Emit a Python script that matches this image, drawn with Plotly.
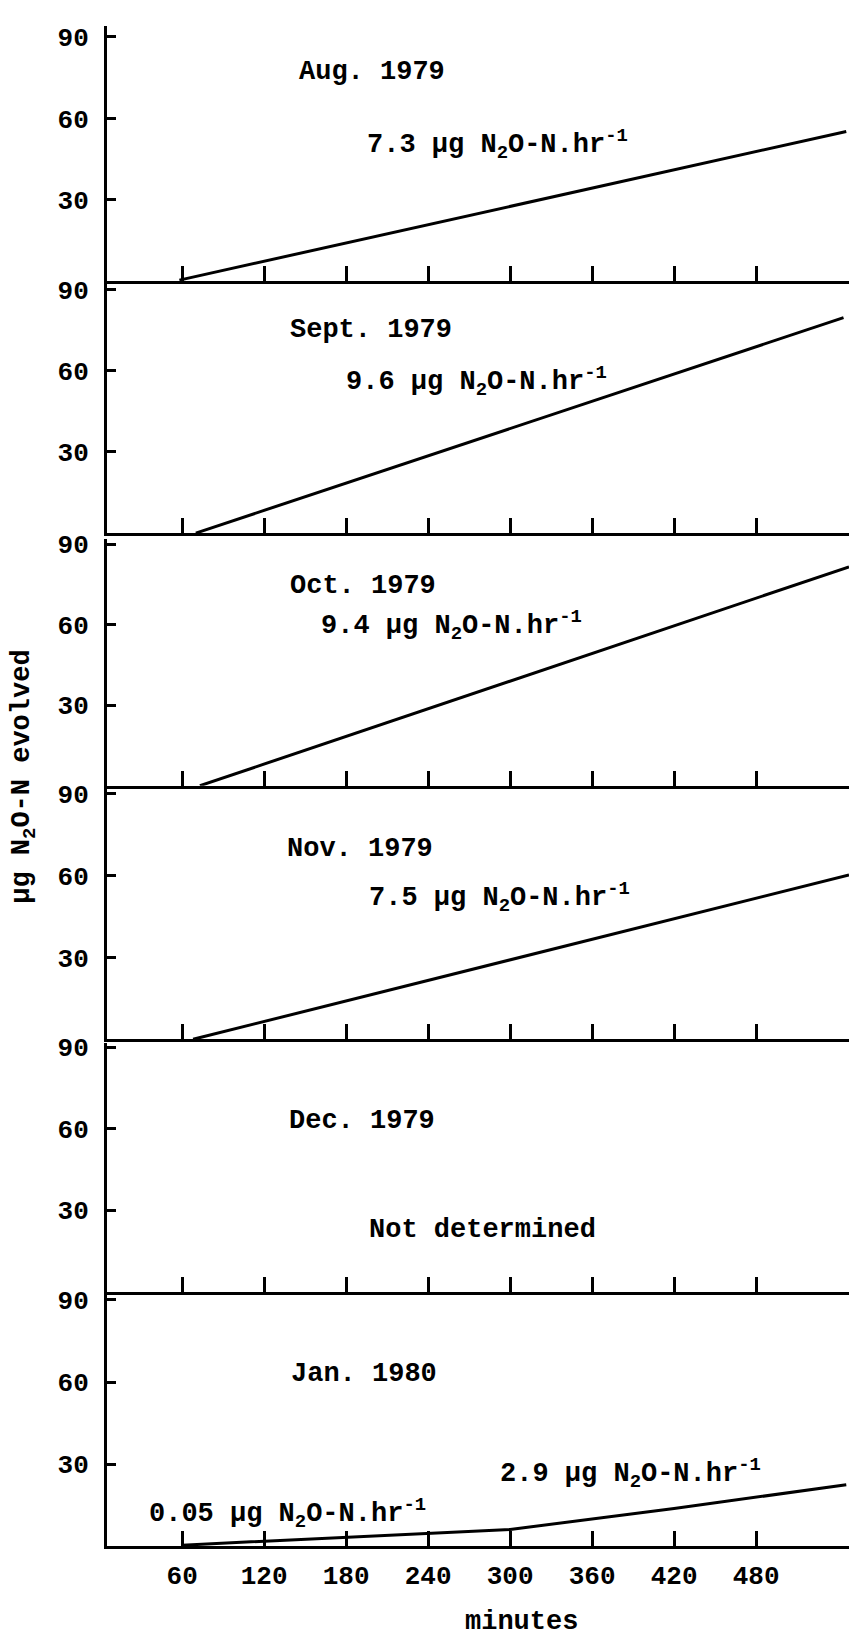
import plotly.graph_objects as go

# ---------------- data ----------------
panel_titles = ["Aug. 1979", "Sept. 1979", "Oct. 1979", "Nov. 1979", "Dec. 1979", "Jan. 1980"]
x_tick_values = [60, 120, 180, 240, 300, 360, 420, 480]
x_tick_labels = ["60", "120", "180", "240", "300", "360", "420", "480"]
y_tick_values = [30, 60, 90]
y_tick_labels = ["30", "60", "90"]

aug_minutes = [58, 546]
aug_n2o = [0.5, 55.2]
sep_minutes = [70, 544]
sep_n2o = [0.0, 79.6]
oct_minutes = [73, 548]
oct_n2o = [0.0, 81.5]
nov_minutes = [68, 548]
nov_n2o = [0.0, 60.2]
dec_minutes = []
dec_n2o = []
jan_minutes = [60, 300, 420, 546]
jan_n2o = [0.5, 6.2, 13.9, 22.5]

rate_aug = "7.3 μg N<sub>2</sub>O-N.hr<sup>-1</sup>"
rate_sep = "9.6 μg N<sub>2</sub>O-N.hr<sup>-1</sup>"
rate_oct = "9.4 μg N<sub>2</sub>O-N.hr<sup>-1</sup>"
rate_nov = "7.5 μg N<sub>2</sub>O-N.hr<sup>-1</sup>"
rate_dec = "Not determined"
rate_jan_late = "2.9 μg N<sub>2</sub>O-N.hr<sup>-1</sup>"
rate_jan_early = "0.05 μg N<sub>2</sub>O-N.hr<sup>-1</sup>"
y_title = "μg N<sub>2</sub>O-N evolved"
x_title = "minutes"

series = [
    (aug_minutes, aug_n2o),
    (sep_minutes, sep_n2o),
    (oct_minutes, oct_n2o),
    (nov_minutes, nov_n2o),
    (dec_minutes, dec_n2o),
    (jan_minutes, jan_n2o),
]

# ---------------- layout geometry (pixels) ----------------
W, H = 853, 1636
L, R = 107, 849
X_RANGE = [5, 548]
# (axis top, 90 tick, baseline) per panel
panels_px = [(17, 28, 274), (277, 282, 527), (533, 538, 781),
             (784, 789, 1036), (1040, 1044, 1290), (1293, 1298, 1546)]

FONT = "Liberation Mono"
FS = 27
fig = go.Figure()
layout = dict(
    width=W, height=H,
    margin=dict(l=L, r=W - R, t=0, b=0),
    paper_bgcolor="white", plot_bgcolor="white",
    showlegend=False,
    font=dict(family=FONT, color="black", size=FS),
)

for i, ((xs, ys), (top, y90, base)) in enumerate(zip(series, panels_px)):
    n = i + 1
    sfx = "" if n == 1 else str(n)
    ymax = 90.0 * (base - top) / (base - y90)
    fig.add_trace(go.Scatter(
        x=xs, y=ys, mode="lines",
        line=dict(color="black", width=3),
        xaxis="x" + sfx, yaxis="y" + sfx,
        hoverinfo="skip", cliponaxis=False,
    ))
    last = (n == len(series))
    layout["xaxis" + sfx] = dict(
        domain=[0, 1], anchor="y" + sfx, range=X_RANGE,
        showline=True, linecolor="black", linewidth=3,
        ticks="inside", ticklen=15, tickwidth=2.5, tickcolor="black",
        tickvals=x_tick_values, ticktext=x_tick_labels,
        showticklabels=last, ticklabelstandoff=3,
        tickfont=dict(family=FONT, size=FS - 1, color="black", weight="bold"),
        showgrid=False, zeroline=False, fixedrange=True,
    )
    layout["yaxis" + sfx] = dict(
        domain=[1 - base / H, 1 - top / H], anchor="x" + sfx, range=[0, ymax],
        showline=True, linecolor="black", linewidth=3,
        ticks="inside", ticklen=9, tickwidth=2.5, tickcolor="black",
        tickvals=y_tick_values, ticktext=y_tick_labels,
        ticklabelstandoff=10,
        tickfont=dict(family=FONT, size=FS - 1, color="black", weight="bold"),
        showgrid=False, zeroline=False, fixedrange=True,
    )

def px_x(px):
    return (px - L) / (R - L)

def px_y(py):
    return 1 - py / H

ann_specs = [
    # text, left px, center y px
    (panel_titles[0], 297, 63),
    (rate_aug, 365, 136),
    (panel_titles[1], 288, 323),
    (rate_sep, 344, 375),
    (panel_titles[2], 288, 580),
    (rate_oct, 319, 620),
    (panel_titles[3], 285, 845),
    (rate_nov, 367, 893),
    (panel_titles[4], 287, 1118),
    (rate_dec, 367, 1228),
    (panel_titles[5], 289, 1373),
    (rate_jan_late, 498, 1473),
    (rate_jan_early, 147, 1513),
]
annotations = []
for text, lx, cy in ann_specs:
    annotations.append(dict(
        text=text, x=px_x(lx), y=px_y(cy), xref="paper", yref="paper",
        xanchor="left", yanchor="middle", showarrow=False,
        font=dict(family=FONT, size=FS, color="black", weight="bold"),
    ))
annotations.append(dict(
    text=y_title, x=px_x(24), y=px_y(772), xref="paper", yref="paper",
    xanchor="center", yanchor="middle", showarrow=False, textangle=-90,
    font=dict(family=FONT, size=FS, color="black", weight="bold"),
))
annotations.append(dict(
    text=x_title, x=px_x(521), y=px_y(1622), xref="paper", yref="paper",
    xanchor="center", yanchor="middle", showarrow=False,
    font=dict(family=FONT, size=FS, color="black", weight="bold"),
))
layout["annotations"] = annotations
fig.update_layout(**layout)
fig.write_html("out.html")
